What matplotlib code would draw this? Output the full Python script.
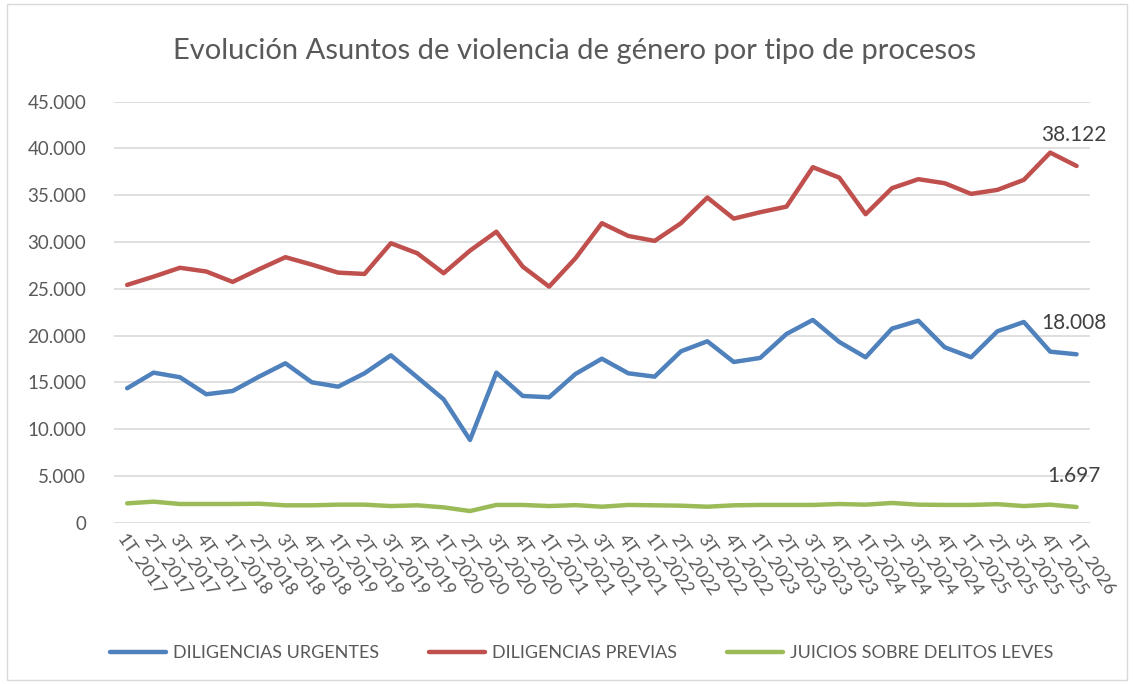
import matplotlib.pyplot as plt
from matplotlib.patches import Rectangle
from matplotlib.ticker import FuncFormatter

plt.rcParams['font.family'] = ['Lato', 'DejaVu Sans']

trimestres = ['1T', '2T', '3T', '4T']
etiquetas = [f'{t}_{a}' for a in range(2017, 2026) for t in trimestres] + ['1T_2026']

urgentes = [14380, 16050, 15560, 13740, 14090, 15620, 17050, 15020, 14550, 15980,
            17900, 15560, 13200, 8860, 16050, 13560, 13420, 15910, 17540, 15980,
            15620, 18330, 19400, 17190, 17620, 20180, 21680, 19330, 17690, 20750,
            21600, 18760, 17690, 20470, 21460, 18290, 18008]
previas = [25420, 26300, 27250, 26850, 25740, 27090, 28380, 27590, 26730, 26590,
           29870, 28800, 26670, 29080, 31100, 27370, 25240, 28270, 32010, 30650,
           30120, 32010, 34750, 32500, 33180, 33780, 37990, 36880, 32970, 35750,
           36710, 36280, 35140, 35570, 36640, 39550, 38122]
leves = [2090, 2270, 2020, 2020, 2020, 2050, 1880, 1880, 1950, 1950,
         1800, 1880, 1660, 1270, 1920, 1920, 1800, 1900, 1730, 1920,
         1880, 1840, 1730, 1880, 1920, 1920, 1920, 2020, 1950, 2130,
         1950, 1920, 1920, 2000, 1800, 1950, 1697]

series = [
    ('DILIGENCIAS URGENTES', urgentes, '#4F81BD'),
    ('DILIGENCIAS PREVIAS', previas, '#C0504D'),
    ('JUICIOS SOBRE DELITOS LEVES', leves, '#9BBB59'),
]

gris = '#595959'


def miles(v, pos):
    return f'{int(v):,}'.replace(',', '.')


fig = plt.figure(figsize=(11.34, 6.84), dpi=100)
ax = fig.add_axes([0.1005, 0.2355, 0.8605, 0.616])

x = list(range(len(etiquetas)))
for nombre, valores, color in series:
    ax.plot(x, valores, color=color, lw=3.2, label=nombre, solid_capstyle='round')
    ultimo = valores[-1]
    ax.annotate(miles(ultimo, None), (x[-1], ultimo), xytext=(-2, 15),
                textcoords='offset points', ha='center', va='bottom',
                fontsize=15, color='#404040')

ax.set_xlim(-0.5, len(etiquetas) - 0.5)
ax.set_ylim(0, 45000)
ax.set_yticks(range(0, 45001, 5000))
ax.yaxis.set_major_formatter(FuncFormatter(miles))
ax.set_xticks(x)
ax.set_xticklabels(etiquetas, rotation=-55, ha='left', va='top',
                   rotation_mode='anchor', fontsize=13, color=gris)
ax.tick_params(axis='y', labelsize=13.5, colors=gris, length=0, pad=20)
ax.tick_params(axis='x', length=0, pad=6)
ax.grid(axis='y', color='#D9D9D9', lw=1.2)
ax.set_axisbelow(True)
for s in ax.spines.values():
    s.set_visible(False)

fig.text(0.507, 0.925, 'Evolución Asuntos de violencia de género por tipo de procesos',
         ha='center', va='center', fontsize=21, color=gris)

fig.legend(loc='lower center', bbox_to_anchor=(0.513, 0.01), ncol=3, frameon=False,
           fontsize=13, handlelength=3.1, handletextpad=0.35, columnspacing=2.8,
           labelcolor=gris)

fig.add_artist(Rectangle((0.006, 0.006), 0.988, 0.988, transform=fig.transFigure,
                         fill=False, ec='#D9D9D9', lw=1))

fig.savefig('out.png', dpi=100)
